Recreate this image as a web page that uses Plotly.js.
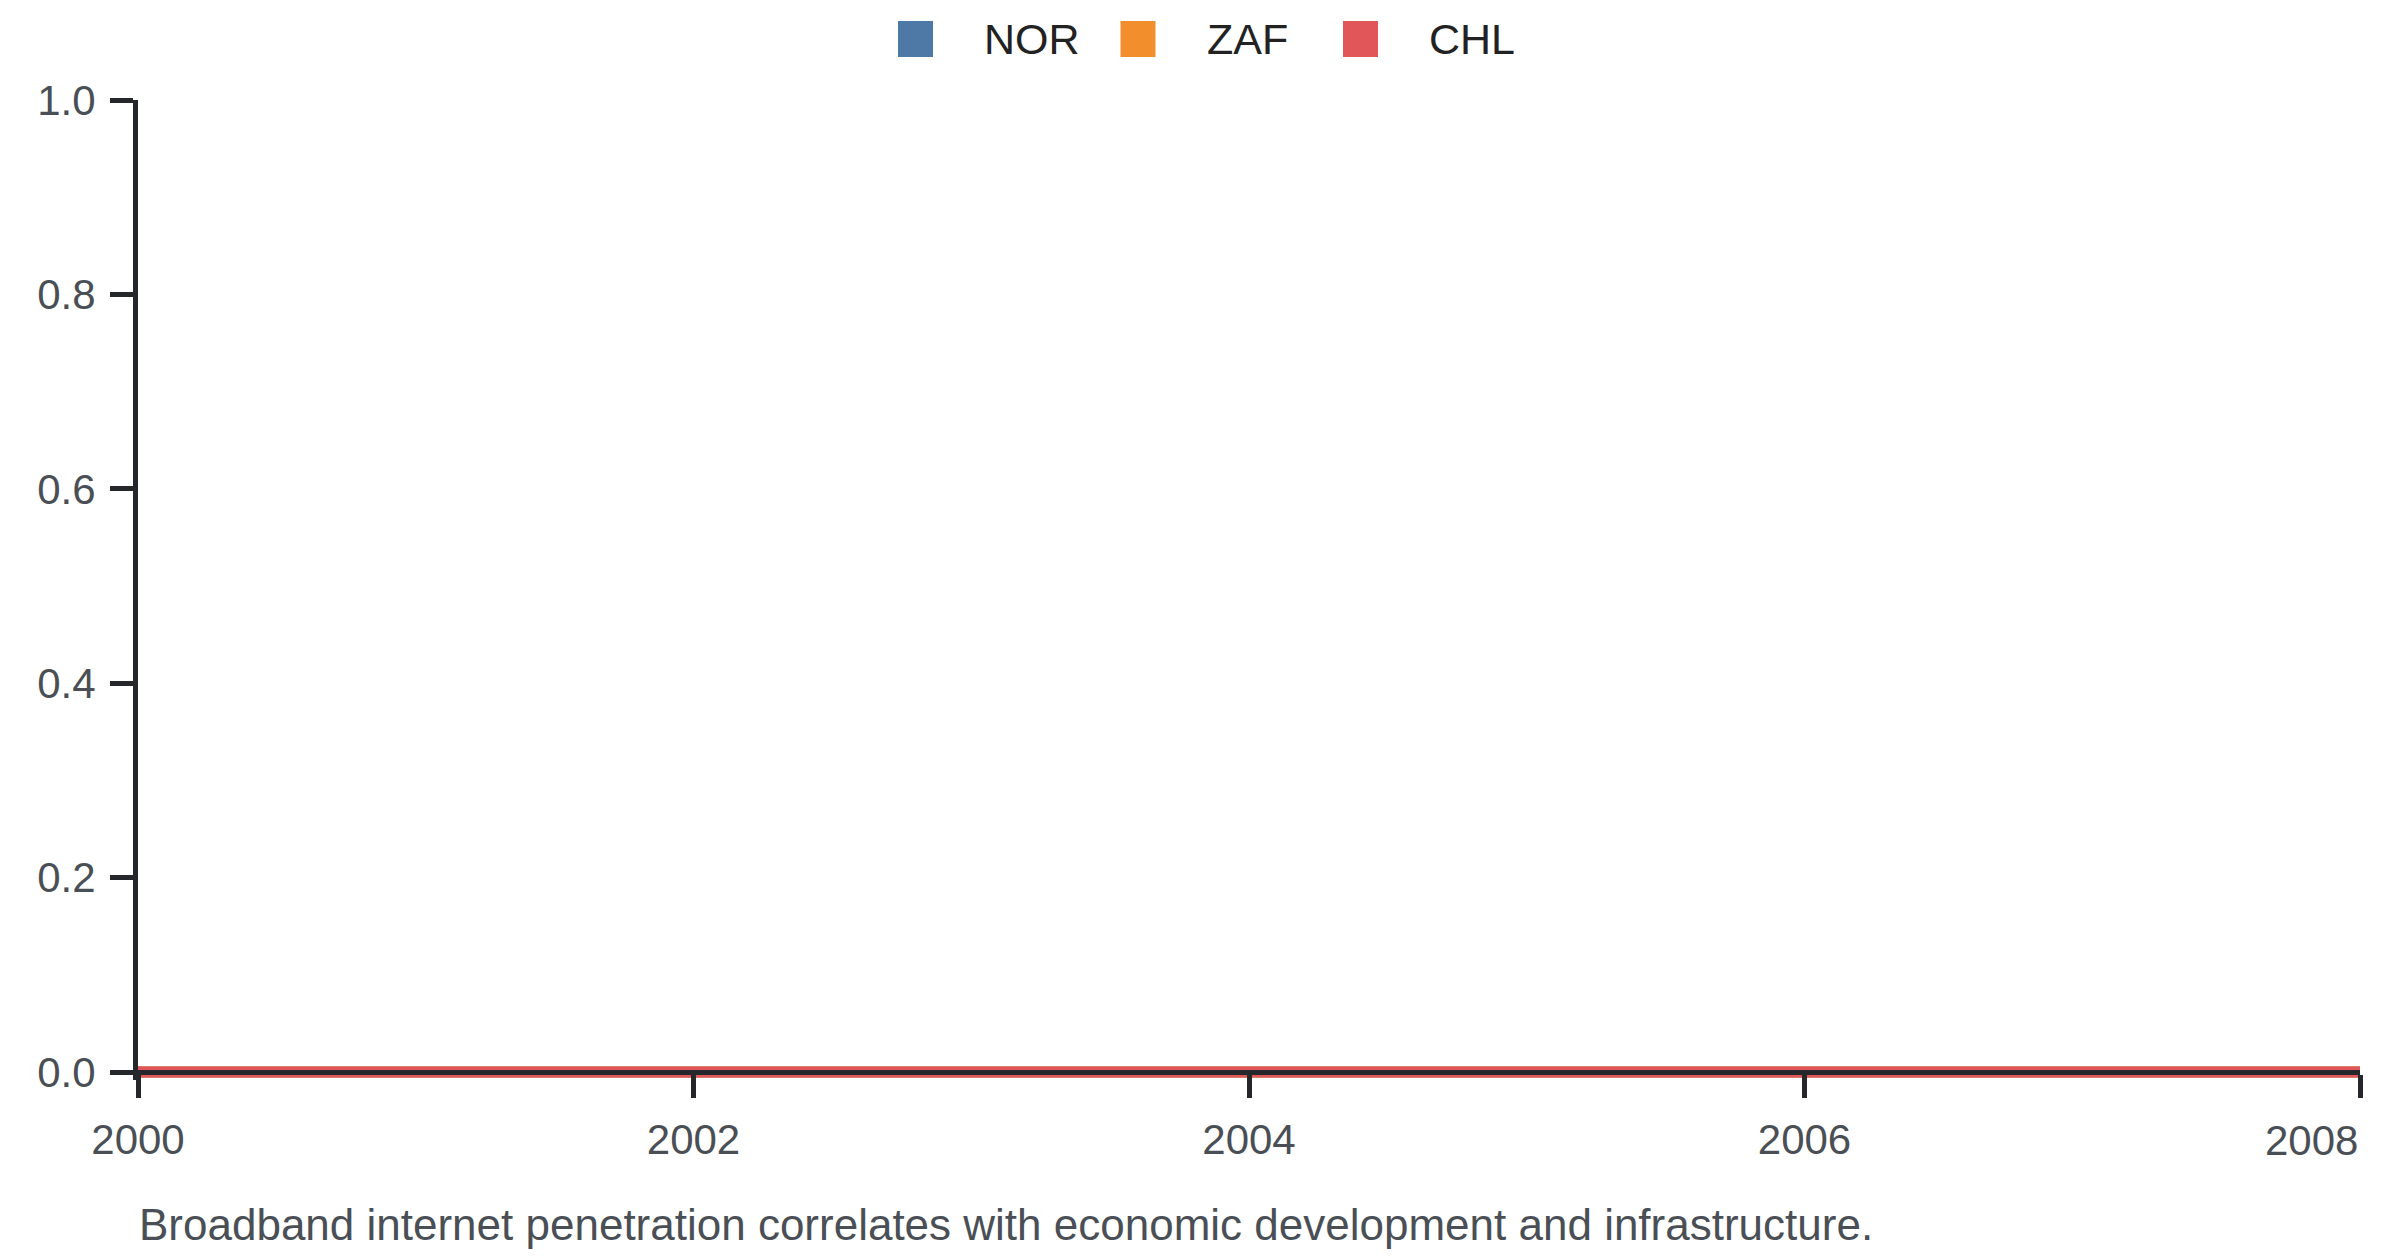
<!DOCTYPE html>
<html>
<head>
<meta charset="utf-8">
<script src="https://cdn.plot.ly/plotly-3.0.1.min.js"></script>
<style>
  html, body { margin: 0; padding: 0; background: #fff; }
  #grafik { width: 2400px; height: 1256px; }
</style>
</head>
<body>
<div id="grafik"></div>
<script>
// data
const years = [2000, 2001, 2002, 2003, 2004, 2005, 2006, 2007, 2008];
const nor = [0, 0, 0, 0, 0, 0, 0, 0, 0];
const zaf = [0, 0, 0, 0, 0, 0, 0, 0, 0];
const chl = [0, 0, 0, 0, 0, 0, 0, 0, 0];
const seriesNames = ["NOR", "ZAF", "CHL"];
const seriesColors = ["#4e79a7", "#f28e2b", "#e15759"];
const xTicks = [2000, 2002, 2004, 2006, 2008];
const yTicks = [0, 0.2, 0.4, 0.6, 0.8, 1.0];
const caption = "Broadband internet penetration correlates with economic development and infrastructure.";

const W = 2400, H = 1256;
// plot area runs a few px below y=0 so the thick zero line is not clipped
const M = { l: 138, r: 40, t: 100, b: 176 };
const plotW = W - M.l - M.r;
const plotH = H - M.t - M.b;
const zeroPx = 1072;                         // page y of value 0
const yMin = -(H - M.b - zeroPx) / (zeroPx - M.t); // value at plot bottom
const px = x => (x - M.l) / plotW;           // page px -> paper x
const py = y => (H - M.b - y) / plotH;       // page px -> paper y

const axisColor = "#25272b";
const textColor = "#4a4f56";
const font = "Liberation Sans, Arial, sans-serif";

const values = [nor, zaf, chl];
const data = values.map((v, i) => ({
    x: years,
    y: v,
    name: seriesNames[i],
    type: "scatter",
    mode: "lines",
    stackgroup: "one",
    fillcolor: seriesColors[i],
    line: { color: seriesColors[i], width: 11 },
    showlegend: false,
    hoverinfo: "x+y+name"
}));

// legend drawn by hand so the swatches can be large squares
const shapes = [];
const annotations = [];
const legX0 = 898, legPitch = 222.5, legY = 39;
seriesNames.forEach((name, i) => {
    const sx = legX0 + i * legPitch;
    shapes.push({
        type: "rect", xref: "paper", yref: "paper",
        xsizemode: "pixel", ysizemode: "pixel",
        xanchor: px(sx), yanchor: py(legY),
        x0: 0, x1: 35, y0: -18, y1: 18,
        fillcolor: seriesColors[i], line: { width: 0 }
    });
    annotations.push({
        xref: "paper", yref: "paper",
        x: px(sx + 84), y: py(legY),
        xanchor: "left", yanchor: "middle",
        text: name, showarrow: false,
        font: { family: font, size: 43, color: "#222" }
    });
});

// last x tick label sits inside the plot edge
annotations.push({
    xref: "x", yref: "paper",
    x: xTicks[xTicks.length - 1], y: py(1140),
    xanchor: "right", yanchor: "middle",
    text: String(xTicks[xTicks.length - 1]), showarrow: false,
    font: { family: font, size: 42, color: textColor }
});

annotations.push({
    xref: "paper", yref: "paper",
    x: px(137), y: py(1224),
    xanchor: "left", yanchor: "middle",
    text: caption, showarrow: false,
    font: { family: font, size: 44, color: textColor }
});

const layout = {
    width: W,
    height: H,
    margin: M,
    paper_bgcolor: "#fff",
    plot_bgcolor: "#fff",
    showlegend: false,
    font: { family: font, size: 42, color: textColor },
    xaxis: {
        range: [2000, 2008],
        tickvals: xTicks,
        ticktext: xTicks.map((t, i) => i === xTicks.length - 1 ? "" : String(t)),
        anchor: "free",
        position: py(zeroPx),
        showgrid: false,
        zeroline: false,
        showline: true,
        linecolor: axisColor,
        linewidth: 5,
        ticks: "outside",
        ticklen: 23,
        tickwidth: 5,
        tickcolor: axisColor,
        ticklabelstandoff: 6,
        tickfont: { family: font, size: 42, color: textColor },
        layer: "above traces"
    },
    yaxis: {
        range: [yMin, 1],
        tickvals: yTicks,
        tickformat: ".1f",
        showgrid: false,
        zeroline: false,
        showline: true,
        linecolor: axisColor,
        linewidth: 5,
        ticks: "outside",
        ticklen: 23,
        tickwidth: 5,
        tickcolor: axisColor,
        ticklabelstandoff: 6,
        tickfont: { family: font, size: 42, color: textColor },
        layer: "above traces"
    },
    shapes: shapes,
    annotations: annotations
};

Plotly.newPlot("grafik", data, layout, { displayModeBar: false, staticPlot: true });
</script>
</body>
</html>
